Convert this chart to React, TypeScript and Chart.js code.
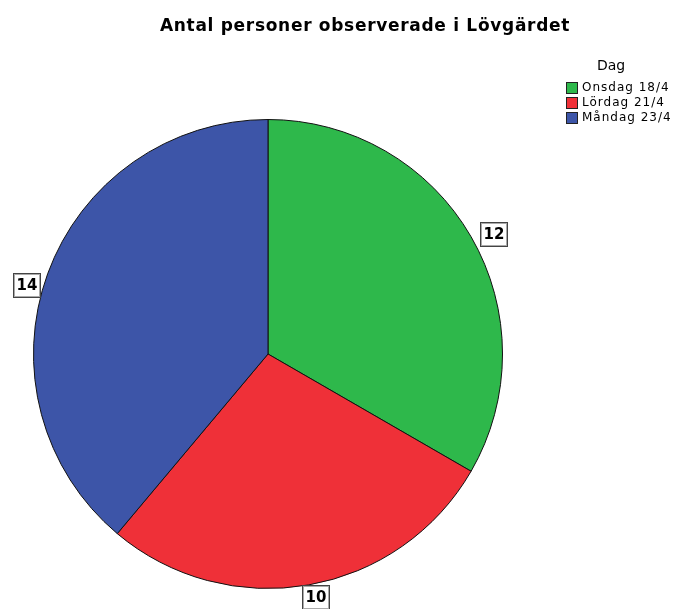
import React, { useEffect, useRef } from "react";
import { Chart, registerables } from "chart.js";

Chart.register(...registerables);

const TITLE = "Antal personer observerade i Lövgärdet";
const LEGEND_TITLE = "Dag";
const categories = ["Onsdag 18/4", "Lördag 21/4", "Måndag 23/4"];
const counts = [12, 10, 14];
const colors = ["#2eb84b", "#ef3038", "#3d55a8"];

const W = 675;
const H = 609;

// small placement tweaks for the boxed value labels (pixels)
const LABEL_NUDGE: [number, number][] = [
  [8, 6],
  [4, -4.5],
  [-5, 18],
];

const overlayPlugin = {
  id: "overlay",
  afterDraw(chart: any) {
    const ctx = chart.ctx as CanvasRenderingContext2D & { letterSpacing?: string };
    ctx.save();
    // title
    ctx.fillStyle = "#000";
    ctx.font = "bold 17px 'DejaVu Sans'";
    ctx.letterSpacing = "0.7px";
    ctx.textAlign = "center";
    ctx.textBaseline = "alphabetic";
    ctx.fillText(TITLE, 365, 31);

    // legend
    ctx.letterSpacing = "0px";
    ctx.font = "14px 'DejaVu Sans'";
    ctx.fillText(LEGEND_TITLE, 611, 70);
    ctx.font = "12px 'DejaVu Sans'";
    ctx.letterSpacing = "1px";
    ctx.textAlign = "left";
    ctx.textBaseline = "middle";
    categories.forEach((c, i) => {
      const y = 88 + i * 15;
      ctx.fillStyle = colors[i];
      ctx.fillRect(566, y - 6, 12, 12);
      ctx.strokeStyle = "#222";
      ctx.lineWidth = 1;
      ctx.strokeRect(566.5, y - 5.5, 11, 11);
      ctx.fillStyle = "#000";
      ctx.fillText(c, 582, y);
    });

    // value labels
    ctx.letterSpacing = "0px";
    const meta = chart.getDatasetMeta(0);
    ctx.font = "bold 15px 'DejaVu Sans'";
    ctx.textAlign = "center";
    ctx.textBaseline = "middle";
    meta.data.forEach((arc: any, i: number) => {
      const { x, y, startAngle, endAngle, outerRadius } = arc.getProps(
        ["x", "y", "startAngle", "endAngle", "outerRadius"],
        true
      );
      const mid = (startAngle + endAngle) / 2;
      const d = outerRadius + 17;
      const cx = x + Math.cos(mid) * d + LABEL_NUDGE[i][0];
      const cy = y + Math.sin(mid) * d + LABEL_NUDGE[i][1];
      const bw = 28;
      const bh = 25;
      const bx = Math.round(cx - bw / 2);
      const by = Math.round(cy - bh / 2);
      ctx.fillStyle = "#fff";
      ctx.fillRect(bx, by, bw, bh);
      ctx.strokeStyle = "#444";
      ctx.lineWidth = 1;
      ctx.strokeRect(bx + 0.5, by + 0.5, bw - 1, bh - 1);
      ctx.strokeStyle = "#aaa";
      ctx.strokeRect(bx + 1.5, by + 1.5, bw - 3, bh - 3);
      ctx.fillStyle = "#000";
      ctx.fillText(String(counts[i]), bx + bw / 2, by + bh / 2 + 1);
    });
    ctx.restore();
  },
};

export default function App() {
  const ref = useRef<HTMLCanvasElement>(null);
  useEffect(() => {
    if (!ref.current) return;
    const chart = new Chart(ref.current, {
      type: "pie",
      data: {
        labels: categories,
        datasets: [
          {
            data: counts,
            backgroundColor: colors,
            borderColor: "#111",
            borderWidth: 1,
          },
        ],
      },
      options: {
        responsive: false,
        animation: false,
        devicePixelRatio: 1,
        layout: { padding: { left: 33, right: 172, top: 119, bottom: 20 } },
        plugins: {
          legend: { display: false },
          title: { display: false },
          tooltip: { enabled: false },
        },
      },
      plugins: [overlayPlugin],
    });
    return () => chart.destroy();
  }, []);
  return (
    <div style={{ position: "absolute", left: 0, top: 0, width: W, height: H, background: "#fff" }}>
      <canvas ref={ref} width={W} height={H} style={{ width: W, height: H }} />
    </div>
  );
}
